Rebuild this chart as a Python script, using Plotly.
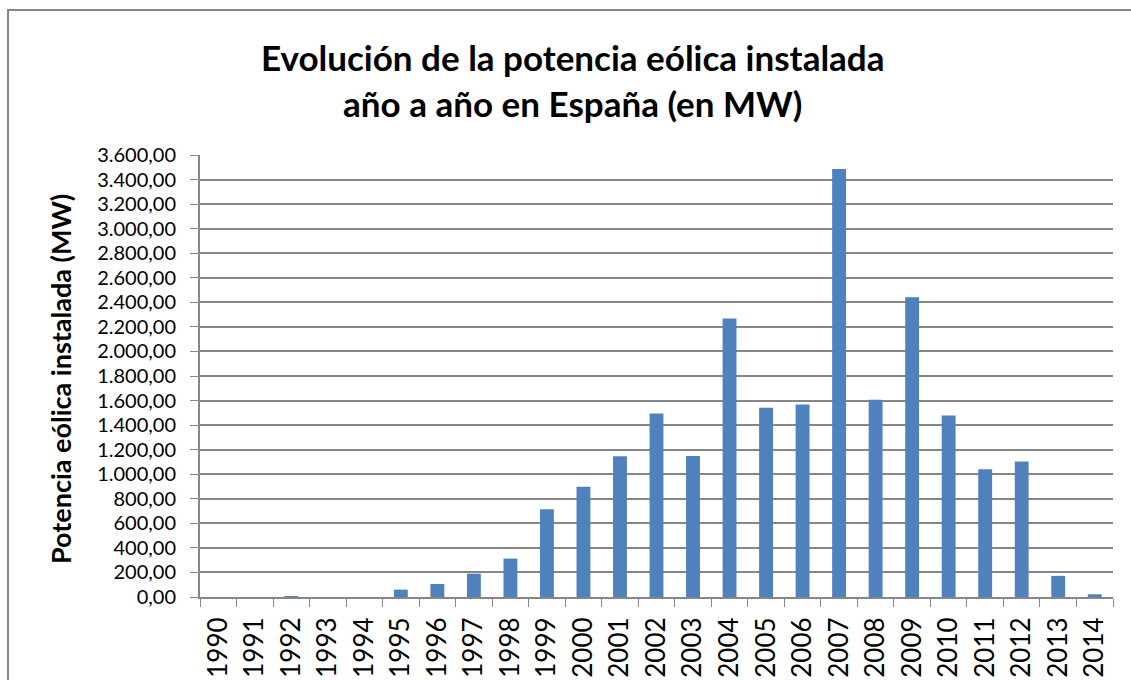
import plotly.graph_objects as go

years = [str(y) for y in range(1990, 2015)]
potencia_mw = [0, 0, 5, 0, 0, 60, 106, 190, 313, 714, 898, 1146, 1495, 1149, 2268,
               1541, 1568, 3485, 1606, 2441, 1478, 1040, 1103, 172, 22]
y_ticks = list(range(0, 3601, 200))

W, H = 1131, 680
OFF = 0  # page body margin removed via post_script
L, R, T, B = 200 - OFF, W - (1113 - OFF), 155 - OFF, H - (597 - OFF)
pw, ph = W - L - R, H - T - B

def px(x):
    return (x - OFF - L) / pw

def py(y):
    return (H - B - (y - OFF)) / ph

fig = go.Figure(go.Bar(x=years, y=potencia_mw, marker=dict(color="#4F81BD", line=dict(width=0)),
                       hoverinfo="x+y"))

font = "Lato, Calibri, Carlito, sans-serif"
border = dict(color="#868686", width=2)
fig.update_layout(
    width=W, height=H,
    margin=dict(l=L, r=R, t=T, b=B, autoexpand=False),
    paper_bgcolor="white", plot_bgcolor="white",
    separators=",.",
    bargap=0.62,
    showlegend=False,
    font=dict(family=font, color="black", size=20),
    xaxis=dict(type="category", tickangle=-90, tickson="boundaries", ticks="outside",
               ticklen=8, tickcolor="#868686", showline=True, linecolor="#868686",
               linewidth=2, showgrid=False, tickfont=dict(size=26, family=font),
               ticklabelstandoff=8, range=[-0.5, 24.5]),
    yaxis=dict(range=[0, 3600], tickvals=y_ticks, tickformat=",.2f", ticks="outside",
               ticklen=8, tickcolor="#868686", showline=True, linecolor="#868686",
               linewidth=2, showgrid=True, gridcolor="#868686", gridwidth=2,
               tickfont=dict(size=20, family=font), zeroline=False,
               ticklabelstandoff=10),
    annotations=[
        dict(text="<b>Evolución de la potencia eólica instalada<br>año a año en España (en MW)</b>",
             xref="paper", yref="paper", x=px(573), y=py(80), xanchor="center",
             yanchor="middle", showarrow=False,
             font=dict(size=35, family=font, color="black")),
        dict(text="<b>Potencia eólica instalada (MW)</b>", textangle=-90,
             xref="paper", yref="paper", x=px(60), y=py(379), xanchor="center",
             yanchor="middle", showarrow=False,
             font=dict(size=27, family=font, color="black")),
    ],
    shapes=[
        dict(type="line", xref="paper", yref="paper", x0=px(8), x1=px(8),
             y0=py(10), y1=py(690), line=border, layer="below"),
        dict(type="line", xref="paper", yref="paper", x0=px(7), x1=px(1140),
             y0=py(10), y1=py(10), line=border, layer="below"),
    ],
)

fig.write_html("out.html", config={"displayModeBar": False},
               post_script="document.body.style.margin='0';document.body.style.overflow='hidden';")
